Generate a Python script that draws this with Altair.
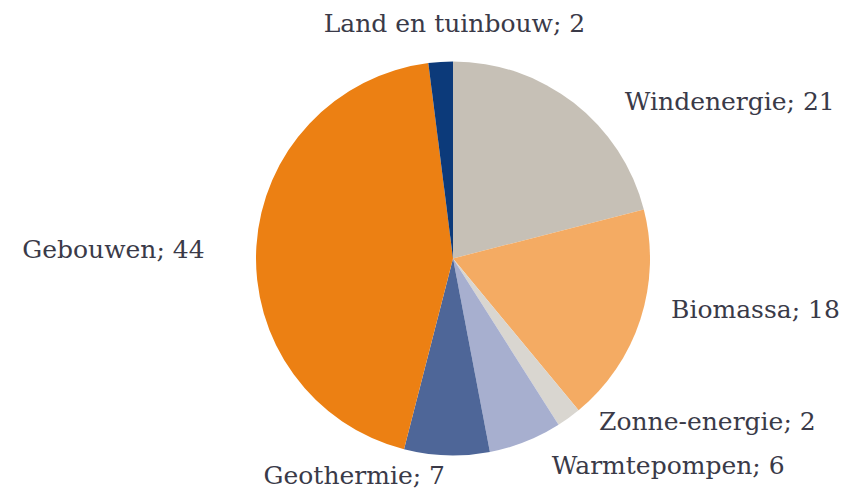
import altair as alt
import pandas as pd
import math

categories = ["Windenergie", "Biomassa", "Zonne-energie", "Warmtepompen",
              "Geothermie", "Gebouwen", "Land en tuinbouw"]
values = [21, 18, 2, 6, 7, 44, 2]
colors = ["#c6c0b6", "#f4ab63", "#d9d6d0", "#a7afcf", "#4e6698", "#ec8013", "#0c3a7a"]

df = pd.DataFrame({
    "cat": categories,
    "value": values,
    "order": list(range(len(categories))),
})
df["label"] = df["cat"] + "; " + df["value"].astype(str)

# label centres relative to the mid-angle anchor (layout only)
offsets = {
    "Windenergie": (145, 13),
    "Biomassa": (98, -15),
    "Zonne-energie": (128, -10),
    "Warmtepompen": (136, 8),
    "Geothermie": (-92, 3),
    "Gebouwen": (-125, 5),
    "Land en tuinbouw": (15, -20),
}

CX, CY = 445, 250.5

pie = alt.Chart(df).mark_arc(outerRadius=197, stroke=None).encode(
    theta=alt.Theta("value:Q", stack=True),
    order=alt.Order("order:Q"),
    color=alt.Color("cat:N", scale=alt.Scale(domain=categories, range=colors), legend=None),
    x=alt.value(CX),
    y=alt.value(CY),
)

labels_base = alt.Chart(df).transform_window(
    cum="sum(value)", sort=[alt.SortField("order")]
).transform_joinaggregate(
    total="sum(value)"
).transform_calculate(
    frac="(datum.cum - datum.value / 2) / datum.total"
)

layers = [pie]
for c in categories:
    dx, dy = offsets[c]
    t = labels_base.transform_filter(alt.datum.cat == c).mark_text(
        radius=215, dx=dx, dy=dy, font="DejaVu Serif", fontSize=25,
        color="#3a3a48", align="center", baseline="middle"
    ).encode(
        theta=alt.Theta("frac:Q", stack=False,
                        scale=alt.Scale(domain=[0, 1], range=[0, 2 * math.pi])),
        text="label:N",
        x=alt.value(CX),
        y=alt.value(CY),
    )
    layers.append(t)

chart = alt.layer(*layers).resolve_scale(theta="independent").properties(
    width=838, height=484, autosize=alt.AutoSizeParams(type="none"), padding=0
).configure_view(stroke=None)

chart.save("out.html", embed_options={"renderer": "svg", "actions": False})
